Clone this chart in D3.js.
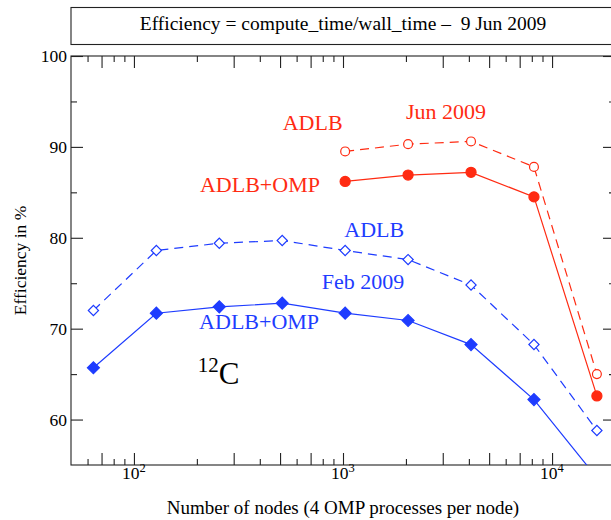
<!DOCTYPE html>
<html>
<head>
<meta charset="utf-8">
<script src="https://cdn.jsdelivr.net/npm/d3@7"></script>
<style>
  body { margin: 0; background: #fff; }
  svg { display: block; }
  svg text { font-family: 'Liberation Serif', 'Times New Roman', Times, 'DejaVu Serif', 'Noto Serif', serif; }
</style>
</head>
<body>
<svg id="chart" width="611" height="520"></svg>
<script>
const nodes = [64, 128, 256, 512, 1024, 2048, 4096, 8192, 16384];
const febOmp = [65.7, 71.7, 72.4, 72.8, 71.7, 70.9, 68.25, 62.2, 53.6];
const febAdlb = [72.0, 78.6, 79.4, 79.7, 78.6, 77.6, 74.8, 68.25, 58.8];
const junNodes = [1024, 2048, 4096, 8192, 16384];
const junOmp = [86.2, 86.9, 87.2, 84.5, 62.6];
const junAdlb = [89.5, 90.3, 90.6, 87.8, 65.0];

const xMajor = [100, 1000, 10000];
const xMajorExp = ['2', '3', '4'];
const xMid = [70, 300, 500, 700, 3000, 5000, 7000];
const xMinor = [60, 80, 90, 200, 400, 600, 800, 900, 2000, 4000, 6000, 8000, 9000];
const yMajor = [60, 70, 80, 90, 100];
const yMinor = [65, 75, 85, 95];

const titleText = 'Efficiency = compute_time/wall_time \u2013 \u00a09 Jun 2009';
const xTitle = 'Number of nodes (4 OMP processes per node)';
const yTitle = 'Efficiency in %';

// annotation text, placed in data coordinates (nodes, %)
const notes = [
  { text: 'ADLB', n: 515, v: 91.9, c: 'red' },
  { text: 'Jun 2009', n: 2000, v: 93.1, c: 'red' },
  { text: 'ADLB+OMP', n: 207, v: 85.0, c: 'red' },
  { text: 'ADLB', n: 1015, v: 80.05, c: 'blue' },
  { text: 'Feb 2009', n: 791, v: 74.33, c: 'blue' },
  { text: 'ADLB+OMP', n: 205, v: 70.0, c: 'blue' }
];

const RED = '#ff2b12';
const BLUE = '#1e3cff';
const col = { red: RED, blue: BLUE };
const SERIF = "'Liberation Serif', 'Times New Roman', 'DejaVu Serif', serif";

const margin = { left: 71, top: 56, right: -4, bottom: 55 };
const W = 611, H = 520;

const svg = d3.select('#chart')
  .attr('font-family', SERIF);

const x = d3.scaleLog()
  .domain([50, 20000])
  .range([margin.left, W - margin.right]);

const y = d3.scaleLinear()
  .domain([55, 100])
  .range([H - margin.bottom, margin.top]);

const x0 = x.range()[0], x1 = x.range()[1];
const y0 = y.range()[0], y1 = y.range()[1];

// title box
svg.append('rect')
  .attr('x', x0)
  .attr('y', 7.5)
  .attr('width', x1 - x0)
  .attr('height', 37)
  .attr('fill', 'none')
  .attr('stroke', '#222')
  .attr('stroke-width', 1.1);

svg.append('text')
  .attr('x', (x0 + x1) / 2)
  .attr('y', 30)
  .attr('text-anchor', 'middle')
  .attr('font-family', SERIF)
  .attr('font-size', '19.5px')
  .attr('fill', '#000')
  .text(titleText);

const plot = svg.append('g');

// plot clip
svg.append('defs').append('clipPath')
  .attr('id', 'clip')
  .append('rect')
  .attr('x', x0)
  .attr('y', y1)
  .attr('width', x1 - x0)
  .attr('height', y0 - y1);

// ticks, all inward
const tickGroup = (axis, transform) => {
  const g = plot.append('g')
    .attr('transform', transform)
    .call(axis);
  g.select('.domain').remove();
  g.selectAll('line').attr('stroke', '#222').attr('stroke-width', 1.1);
  return g;
};

[[xMajor, 12], [xMid, 12], [xMinor, 6]].forEach(([vals, len]) => {
  tickGroup(d3.axisBottom(x).tickValues(vals).tickSize(-len).tickFormat(''), `translate(0,${y0})`);
  tickGroup(d3.axisTop(x).tickValues(vals).tickSize(-len).tickFormat(''), `translate(0,${y1})`);
});

[[yMajor, 12], [yMinor, 6]].forEach(([vals, len]) => {
  tickGroup(d3.axisLeft(y).tickValues(vals).tickSize(-len).tickFormat(''), `translate(${x0},0)`);
  tickGroup(d3.axisRight(y).tickValues(vals).tickSize(-len).tickFormat(''), `translate(${x1},0)`);
});

// frame
plot.append('rect')
  .attr('x', x0)
  .attr('y', y1)
  .attr('width', x1 - x0)
  .attr('height', y0 - y1)
  .attr('fill', 'none')
  .attr('stroke', '#222')
  .attr('stroke-width', 1.1);

// y tick labels
plot.selectAll('.ylab')
  .data(yMajor)
  .enter()
  .append('text')
  .attr('class', 'ylab')
  .attr('x', x0 - 4)
  .attr('y', d => y(d) + 6)
  .attr('text-anchor', 'end')
  .attr('font-family', SERIF)
  .attr('font-size', '17.5px')
  .text(d => d);

// x tick labels 10^n
const xl = plot.selectAll('.xlab')
  .data(xMajor)
  .enter()
  .append('text')
  .attr('class', 'xlab')
  .attr('x', d => x(d) - 12)
  .attr('y', y0 + 14)
  .attr('font-family', SERIF)
  .attr('font-size', '17.5px');
xl.append('tspan')
  .text('10');
xl.append('tspan')
  .attr('dy', -7)
  .attr('font-size', '12.5px')
  .text((d, i) => xMajorExp[i]);

// axis titles
svg.append('text')
  .attr('x', (x0 + x1) / 2)
  .attr('y', 514)
  .attr('text-anchor', 'middle')
  .attr('font-family', SERIF)
  .attr('font-size', '19px')
  .text(xTitle);

svg.append('text')
  .attr('transform', `translate(26,${(y0 + y1) / 2}) rotate(-90)`)
  .attr('text-anchor', 'middle')
  .attr('font-family', SERIF)
  .attr('font-size', '17.5px')
  .text(yTitle);

// series
const series = [
  { xs: nodes, ys: febAdlb, color: BLUE, dash: '9,6', marker: 'diamond', filled: false },
  { xs: nodes, ys: febOmp, color: BLUE, dash: null, marker: 'diamond', filled: true },
  { xs: junNodes, ys: junAdlb, color: RED, dash: '9,6', marker: 'circle', filled: false },
  { xs: junNodes, ys: junOmp, color: RED, dash: null, marker: 'circle', filled: true }
];

const data = plot.append('g').attr('clip-path', 'url(#clip)');

const line = d3.line()
  .x(d => x(d[0]))
  .y(d => y(d[1]));

series.forEach(s => {
  const pts = s.xs.map((n, i) => [n, s.ys[i]]);

  data.append('path')
    .datum(pts)
    .attr('d', line)
    .attr('fill', 'none')
    .attr('stroke', s.color)
    .attr('stroke-width', 1.2)
    .attr('stroke-dasharray', s.dash);

  const sym = d3.symbol()
    .type(s.marker === 'diamond' ? d3.symbolSquare : d3.symbolCircle)
    .size(s.marker === 'diamond' ? (s.filled ? 72 : 52) : (s.filled ? 80 : 62));

  data.selectAll(null)
    .data(pts)
    .enter()
    .append('path')
    .attr('d', sym)
    .attr('transform', d => `translate(${x(d[0])},${y(d[1])})` + (s.marker === 'diamond' ? ' rotate(45)' : ''))
    .attr('fill', s.filled ? s.color : '#fff')
    .attr('stroke', s.color)
    .attr('stroke-width', 1.2);
});

// annotations
plot.selectAll('.note')
  .data(notes)
  .enter()
  .append('text')
  .attr('class', 'note')
  .attr('x', d => x(d.n))
  .attr('y', d => y(d.v))
  .attr('font-family', SERIF)
  .attr('font-size', '22px')
  .attr('fill', d => col[d.c])
  .text(d => d.text);

// nucleus label 12C
const nuc = plot.append('text')
  .attr('x', x(202))
  .attr('y', y(63.9))
  .attr('font-family', SERIF)
  .attr('fill', '#000');
nuc.append('tspan')
  .attr('font-size', '21px')
  .attr('dy', -12)
  .text('12');
nuc.append('tspan')
  .attr('font-size', '31px')
  .attr('dy', 12)
  .text('C');
</script>
</body>
</html>
